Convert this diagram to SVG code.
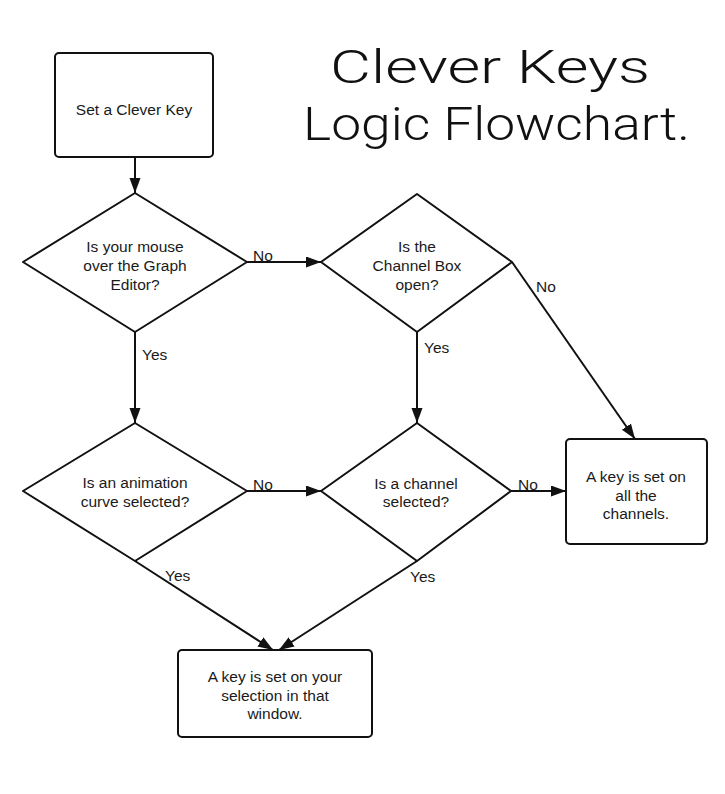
<svg xmlns="http://www.w3.org/2000/svg" width="725" height="794" viewBox="0 0 725 794">
<style>
.shape{fill:#fff;stroke:#111;stroke-width:2;stroke-linejoin:round}
.lbl{font-family:"Liberation Sans",Arial,sans-serif;font-size:15.5px;fill:#1a1a1a;text-anchor:middle}
.cl{font-family:"Liberation Sans",Arial,sans-serif;font-size:15.5px;fill:#1a1a1a}
.conn{fill:none;stroke:#111;stroke-width:2}
.title{font-family:Roboto,"Open Sans",sans-serif;font-weight:300;font-size:46px;fill:#111}
</style>
<defs>
<marker id="arr" markerUnits="userSpaceOnUse" markerWidth="16" markerHeight="12" refX="15" refY="5.5" orient="auto">
<path d="M0,0 L15,5.5 L0,11 z" fill="#111"/>
</marker>
</defs>
<rect width="725" height="794" fill="#fff"/>
<g id="title">
<text class="title" x="330" y="83" textLength="320" lengthAdjust="spacingAndGlyphs">Clever Keys</text>
<text class="title" x="303" y="140" textLength="387" lengthAdjust="spacingAndGlyphs">Logic Flowchart.</text>
</g>
<g id="connectors">
<line class="conn" x1="135" y1="157" x2="135" y2="193" marker-end="url(#arr)"/>
<line class="conn" x1="247" y1="262" x2="321" y2="262" marker-end="url(#arr)"/>
<line class="conn" x1="135" y1="332" x2="135" y2="423" marker-end="url(#arr)"/>
<line class="conn" x1="417" y1="332" x2="417" y2="423" marker-end="url(#arr)"/>
<line class="conn" x1="512" y1="262" x2="635" y2="439" marker-end="url(#arr)"/>
<line class="conn" x1="247" y1="491" x2="321" y2="491" marker-end="url(#arr)"/>
<line class="conn" x1="511" y1="491" x2="566" y2="491" marker-end="url(#arr)"/>
<line class="conn" x1="135" y1="561" x2="273" y2="650" marker-end="url(#arr)"/>
<line class="conn" x1="417" y1="561" x2="279" y2="650" marker-end="url(#arr)"/>
<text class="cl" x="253" y="261">No</text>
<text class="cl" x="142" y="360">Yes</text>
<text class="cl" x="424" y="353">Yes</text>
<text class="cl" x="536" y="292">No</text>
<text class="cl" x="253" y="490">No</text>
<text class="cl" x="518" y="490">No</text>
<text class="cl" x="165" y="581">Yes</text>
<text class="cl" x="410" y="582">Yes</text>
</g>
<g id="start">
<rect class="shape" x="55" y="53" width="158" height="104" rx="4"/>
<text class="lbl" x="134" y="115">Set a Clever Key</text>
</g>
<g id="q-mouse">
<polygon class="shape" points="135,193 247,262 135,332 23,262"/>
<text class="lbl" x="135" y="252">Is your mouse</text>
<text class="lbl" x="135" y="271">over the Graph</text>
<text class="lbl" x="135" y="290">Editor?</text>
</g>
<g id="q-channelbox">
<polygon class="shape" points="417,194 512,262 417,332 321,262"/>
<text class="lbl" x="417" y="252">Is the</text>
<text class="lbl" x="417" y="271">Channel Box</text>
<text class="lbl" x="417" y="290">open?</text>
</g>
<g id="q-curve">
<polygon class="shape" points="135,423 247,491 135,561 23,491"/>
<text class="lbl" x="135" y="488">Is an animation</text>
<text class="lbl" x="135" y="507">curve selected?</text>
</g>
<g id="q-channel">
<polygon class="shape" points="417,423 511,491 417,561 321,491"/>
<text class="lbl" x="416" y="489">Is a channel</text>
<text class="lbl" x="416" y="507">selected?</text>
</g>
<g id="all-channels">
<rect class="shape" x="566" y="439" width="141" height="105" rx="4"/>
<text class="lbl" x="636" y="482">A key is set on</text>
<text class="lbl" x="636" y="501">all the</text>
<text class="lbl" x="636" y="519">channels.</text>
</g>
<g id="selection">
<rect class="shape" x="178" y="650" width="194" height="87" rx="4"/>
<text class="lbl" x="275" y="682">A key is set on your</text>
<text class="lbl" x="275" y="701">selection in that</text>
<text class="lbl" x="275" y="719">window.</text>
</g>
</svg>
